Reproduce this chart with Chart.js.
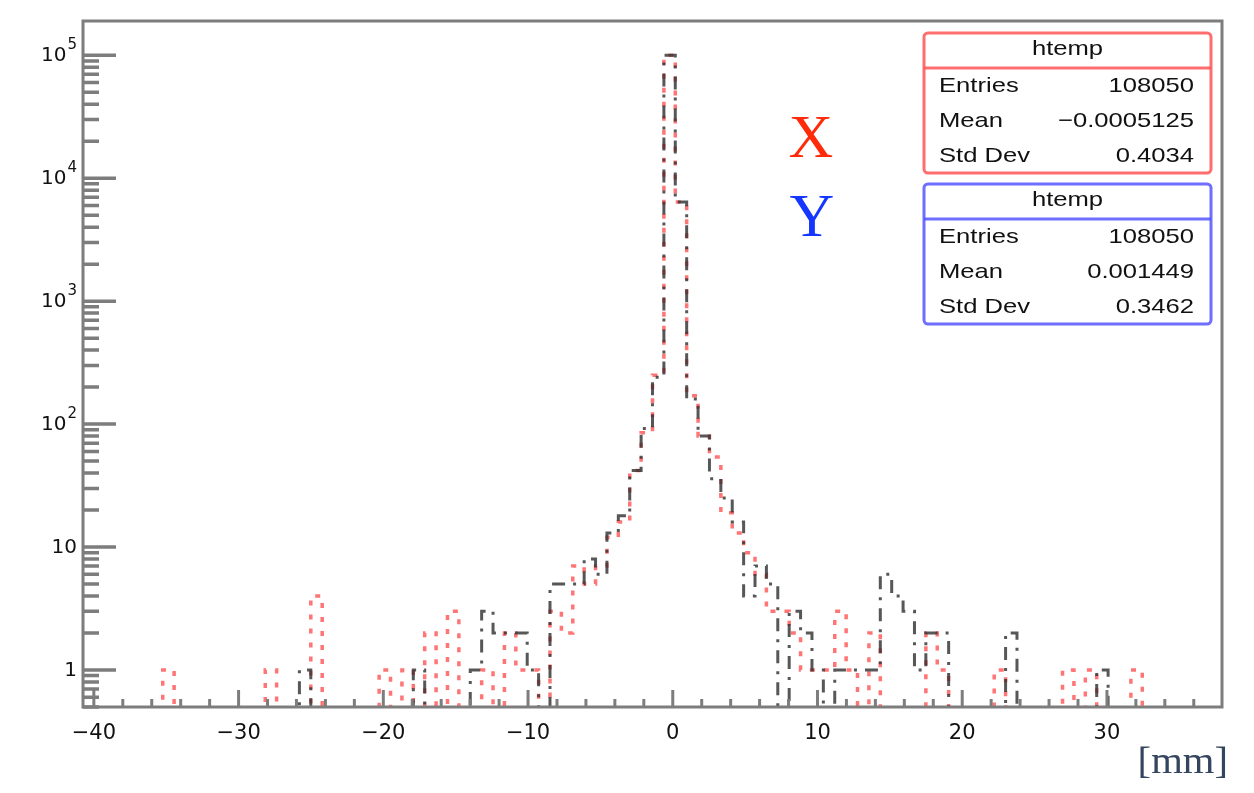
<!DOCTYPE html>
<html>
<head>
<meta charset="utf-8">
<title>htemp X / Y</title>
<script src="https://cdn.jsdelivr.net/npm/chart.js"></script>
<style>
  html, body { margin: 0; padding: 0; background: #fff; }
  canvas { display: block; }
</style>
</head>
<body>
<canvas id="hist-chart" width="1254" height="793"></canvas>
<script>
// histogram binning (100 bins, like ROOT's htemp)
var xLow = -40.75;
var binWidth = 0.787;

// bin contents, bin 0 .. 99
var countsX = [
  0, 0, 0, 0, 0, 0, 0, 1, 0, 0,
  0, 0, 0, 0, 0, 0, 1, 0, 0, 0,
  4, 0, 0, 0, 0, 0, 1, 0, 1, 0,
  2, 0, 3, 0, 0, 1, 0, 2, 1, 1,
  0, 3, 2, 7, 5, 7, 12, 16, 42, 85,
  250, 100000, 6400, 170, 80, 54, 19, 13, 9, 6,
  3, 3, 2, 1, 1, 1, 3, 1, 0, 2,
  0, 0, 0, 0, 2, 1, 0, 0, 0, 0,
  1, 0, 0, 0, 0, 0, 1, 0, 1, 0,
  0, 0, 1, 0, 0, 0, 0, 0, 0, 0
];
var countsY = [
  0, 0, 0, 0, 0, 0, 0, 0, 0, 0,
  0, 0, 0, 0, 0, 0, 0, 0, 0, 1,
  0, 0, 0, 0, 0, 0, 0, 0, 0, 1,
  0, 0, 0, 0, 1, 3, 2, 2, 2, 1,
  0, 5, 5, 5, 8, 6, 13, 18, 42, 92,
  240, 100000, 6400, 160, 80, 36, 25, 16, 4, 7,
  5, 0, 3, 2, 1, 0, 1, 1, 1, 1,
  6, 4, 3, 1, 2, 2, 0, 0, 0, 0,
  0, 2, 0, 0, 0, 0, 0, 0, 0, 1,
  0, 0, 0, 0, 0, 0, 0, 0, 0, 0
];

var xTickValues = [-40, -30, -20, -10, 0, 10, 20, 30];
var yTickValues = [1, 10, 100, 1000, 10000, 100000];
// base text and exponent for each y label
var yTickBase = ['1', '10', '10', '10', '10', '10'];
var yTickExp = ['', '', '2', '3', '4', '5'];

var statLabels = ['Entries', 'Mean', 'Std Dev'];
var statValuesX = ['108050', '\u22120.0005125', '0.4034'];
var statValuesY = ['108050', '0.001449', '0.3462'];

var xMin = -40.75, xMax = 37.95;
var yMin = 0.5, yMax = 1.9e5;

// turn bin contents into step points; empty bins go below the frame (clipped)
function histPoints(counts) {
    var pts = [];
    for (var i = 0; i < counts.length; i++) {
        pts.push({ x: xLow + i * binWidth, y: counts[i] > 0 ? counts[i] : 0.05 });
    }
    pts.push({ x: xLow + counts.length * binWidth, y: 0.05 });
    return pts;
}

function stretchText(ctx, str, x, y, align, sx) {
    ctx.save();
    ctx.translate(x, y);
    ctx.scale(sx, 1);
    ctx.textAlign = align;
    ctx.fillText(str, 0, 0);
    ctx.restore();
}

function statBox(ctx, top, color, values) {
    var left = 924, width = 287, height = 140;
    ctx.save();
    ctx.strokeStyle = color;
    ctx.lineWidth = 3;
    ctx.beginPath();
    ctx.roundRect(left, top, width, height, 4);
    ctx.stroke();
    ctx.beginPath();
    ctx.moveTo(left, top + 35);
    ctx.lineTo(left + width, top + 35);
    ctx.stroke();
    ctx.fillStyle = '#111';
    ctx.font = '21px "Liberation Sans", Arial, sans-serif';
    ctx.textBaseline = 'middle';
    stretchText(ctx, 'htemp', left + width / 2, top + 16, 'center', 1.22);
    for (var i = 0; i < statLabels.length; i++) {
        var rowY = top + 53 + i * 35;
        stretchText(ctx, statLabels[i], left + 15, rowY, 'left', 1.22);
        stretchText(ctx, values[i], left + 270, rowY, 'right', 1.22);
    }
    ctx.restore();
}

// ROOT-like frame, inward ticks, y labels with exponents, stat boxes
var rootDecor = {
    id: 'rootDecor',
    afterDraw: function (chart) {
        var ctx = chart.ctx;
        var area = chart.chartArea;
        var xs = chart.scales.x, ys = chart.scales.y;
        ctx.save();
        ctx.strokeStyle = '#7d7d7d';
        ctx.lineWidth = 3;
        ctx.strokeRect(area.left, area.top, area.right - area.left, area.bottom - area.top);

        // x ticks every 2, long ones every 10
        ctx.beginPath();
        for (var v = -40; v <= 36; v += 2) {
            var px = xs.getPixelForValue(v);
            var len = (v % 10 === 0) ? 17 : 8;
            ctx.moveTo(px, area.bottom);
            ctx.lineTo(px, area.bottom - len);
        }
        ctx.stroke();

        // y ticks on the log axis
        ctx.lineWidth = 3.5;
        ctx.beginPath();
        for (var d = -1; d <= 5; d++) {
            for (var m = 1; m <= 9; m++) {
                var val = m * Math.pow(10, d);
                if (val < yMin || val > yMax) continue;
                var py = ys.getPixelForValue(val);
                ctx.moveTo(area.left, py);
                ctx.lineTo(area.left + (m === 1 ? 33 : 16), py);
            }
        }
        ctx.stroke();

        // y labels: "10" plus raised exponent
        ctx.fillStyle = '#111';
        ctx.textBaseline = 'middle';
        for (var k = 0; k < yTickValues.length; k++) {
            var ly = ys.getPixelForValue(yTickValues[k]);
            var right = area.left - 6;
            if (yTickExp[k]) {
                ctx.font = '15px "DejaVu Sans", sans-serif';
                ctx.textAlign = 'right';
                ctx.fillText(yTickExp[k], right, ly - 10);
                right -= ctx.measureText(yTickExp[k]).width + 1;
            }
            ctx.font = '20px "DejaVu Sans", sans-serif';
            ctx.textAlign = 'right';
            ctx.fillText(yTickBase[k], right, ly + 1);
        }
        ctx.restore();

        statBox(ctx, 33, 'rgba(255,85,85,0.85)', statValuesX);
        statBox(ctx, 184, 'rgba(85,85,255,0.85)', statValuesY);

        ctx.save();
        ctx.textBaseline = 'alphabetic';
        ctx.font = '62px "Liberation Serif", "Times New Roman", serif';
        ctx.fillStyle = '#ff2a0a';
        stretchText(ctx, 'X', 811, 157, 'center', 1);
        ctx.fillStyle = '#1536ff';
        stretchText(ctx, 'Y', 812, 236, 'center', 1);
        ctx.font = '37px "Liberation Serif", "Times New Roman", serif';
        ctx.fillStyle = '#34455f';
        stretchText(ctx, '[mm]', 1228, 773, 'right', 1.1);
        ctx.restore();
    }
};

new Chart(document.getElementById('hist-chart'), {
    type: 'line',
    data: {
        datasets: [
            {
                label: 'Y',
                data: histPoints(countsY),
                borderColor: 'rgba(50,50,50,0.82)',
                borderWidth: 3,
                borderDash: [13, 8, 3, 8],
                stepped: true,
                pointRadius: 0,
                fill: false
            },
            {
                label: 'X',
                data: histPoints(countsX),
                borderColor: 'rgba(255,70,70,0.75)',
                borderWidth: 3.5,
                borderDash: [5, 9],
                stepped: true,
                pointRadius: 0,
                fill: false
            }
        ]
    },
    options: {
        responsive: false,
        animation: false,
        devicePixelRatio: 1,
        layout: { padding: { top: 21, right: 32, left: 0, bottom: 0 } },
        plugins: {
            legend: { display: false },
            tooltip: { enabled: false }
        },
        scales: {
            x: {
                type: 'linear',
                min: xMin,
                max: xMax,
                grid: { display: false, drawTicks: false },
                border: { display: false },
                ticks: {
                    autoSkip: false,
                    maxRotation: 0,
                    padding: 14,
                    color: '#111',
                    font: { family: 'DejaVu Sans', size: 21 },
                    callback: function (v) {
                        return v < 0 ? '\u2212' + Math.abs(v) : String(v);
                    }
                },
                afterBuildTicks: function (scale) {
                    scale.ticks = xTickValues.map(function (v) { return { value: v }; });
                },
                afterFit: function (scale) { scale.height = 86; }
            },
            y: {
                type: 'logarithmic',
                min: yMin,
                max: yMax,
                grid: { display: false, drawTicks: false },
                border: { display: false },
                ticks: { display: false },
                afterBuildTicks: function (scale) {
                    scale.ticks = yTickValues.map(function (v) { return { value: v }; });
                },
                afterFit: function (scale) { scale.width = 83; }
            }
        }
    },
    plugins: [rootDecor]
});
</script>
</body>
</html>
